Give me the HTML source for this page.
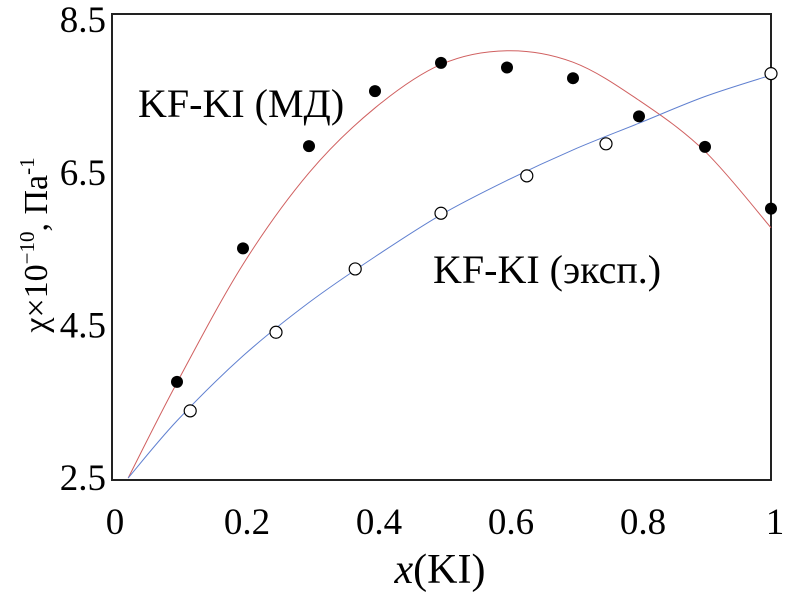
<!DOCTYPE html>
<html><head><meta charset="utf-8"><style>
body{margin:0;background:#fff}
svg{display:block;font-family:"Liberation Serif",serif}
</style></head><body>
<svg width="787" height="593">
<g id="g"></g>
</svg>
<script>
const xTicks=[0,0.2,0.4,0.6,0.8,1];
const xTickLabels=["0","0.2","0.4","0.6","0.8","1"];
const yTicks=[2.5,4.5,6.5,8.5];
const yTickLabels=["2.5","4.5","6.5","8.5"];
const mdX=[0.1,0.2,0.3,0.4,0.5,0.6,0.7,0.8,0.9,1.0];
const mdY=[3.76,5.51,6.85,7.57,7.94,7.88,7.74,7.24,6.84,6.03];
const expX=[0.12,0.25,0.37,0.5,0.63,0.75,1.0];
const expY=[3.38,4.41,5.24,5.97,6.46,6.88,7.8];
const mdFitX=[0.026,0.1,0.2,0.3,0.4,0.5,0.6,0.7,0.8,0.9,1.0];
const mdFitY=[2.5,3.75,5.3,6.5,7.35,7.92,8.1,7.95,7.45,6.78,5.78];
const expFitX=[0.026,0.1,0.2,0.3,0.4,0.5,0.6,0.7,0.8,0.9,1.0];
const expFitY=[2.5,3.25,4.1,4.8,5.4,5.95,6.4,6.8,7.15,7.5,7.78];
const X=v=>111+660*v, Y=v=>478-(v-2.5)*76.3;
const ns="http://www.w3.org/2000/svg", g=document.getElementById('g');
function el(t,a,txt){const e=document.createElementNS(ns,t);for(const k in a)e.setAttribute(k,a[k]);if(txt!==undefined)e.textContent=txt;g.appendChild(e);return e;}
function path(xs,ys){let p=xs.map((x,i)=>[X(x),Y(ys[i])]);let d="M"+p[0][0]+","+p[0][1];
for(let i=0;i<p.length-1;i++){const p0=p[Math.max(i-1,0)],p1=p[i],p2=p[i+1],p3=p[Math.min(i+2,p.length-1)];
d+=" C"+(p1[0]+(p2[0]-p0[0])/6)+","+(p1[1]+(p2[1]-p0[1])/6)+" "+(p2[0]-(p3[0]-p1[0])/6)+","+(p2[1]-(p3[1]-p1[1])/6)+" "+p2[0]+","+p2[1];}return d;}
let e;
e=el('rect',{x:112,y:14,width:659,height:466,fill:'none',stroke:'#222','stroke-width':2});

xTicks.forEach((t,i)=>{e=el('text',{x:X(t)+4,y:534,'font-size':37,'text-anchor':'middle'},xTickLabels[i]);
});
yTicks.forEach((t,i)=>{e=el('text',{x:106,y:Y(t)+12,'font-size':37,'text-anchor':'end'},yTickLabels[i]);
});
e=el('path',{d:path(mdFitX,mdFitY),fill:'none',stroke:'#d06060','stroke-width':1});

e=el('path',{d:path(expFitX,expFitY),fill:'none',stroke:'#6080d0','stroke-width':1});

mdX.forEach((x,i)=>{e=el('circle',{cx:X(x),cy:Y(mdY[i]),r:6,fill:'#000'});
});
expX.forEach((x,i)=>{e=el('circle',{cx:X(x),cy:Y(expY[i]),r:6,fill:'#fff',stroke:'#000','stroke-width':1.2});
});
e=el('text',{x:138,y:117,'font-size':40},'KF-KI (МД)');

e=el('text',{x:433,y:283,'font-size':40},'KF-KI (эксп.)');

e=el('text',{x:440,y:583,'font-size':42,'text-anchor':'middle'});
e.innerHTML='<tspan font-style="italic">x</tspan>(KI)';

e=el('text',{transform:'translate(47,245) rotate(-90)','font-size':34,'text-anchor':'middle'});
e.innerHTML='χ×10<tspan font-size="21" dy="-13">−10</tspan><tspan dy="13">, Па</tspan><tspan font-size="21" dy="-13">-1</tspan>';

</script>
</body></html>
